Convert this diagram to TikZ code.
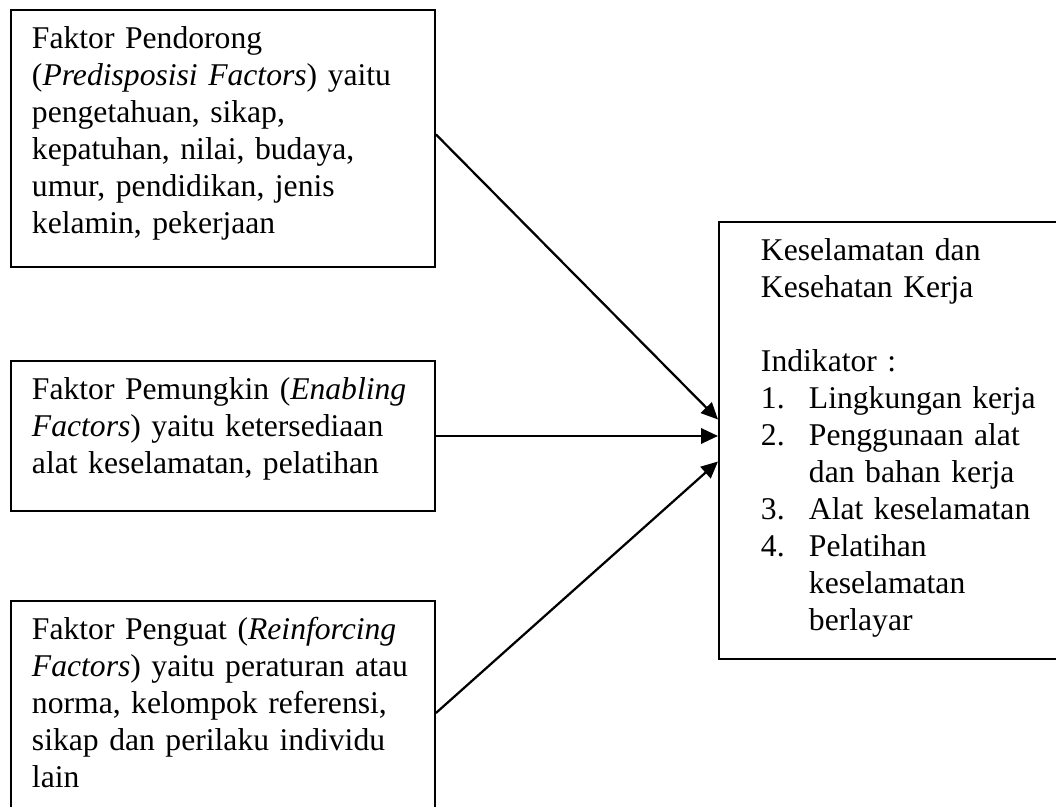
\documentclass[tikz,border=0pt]{standalone}
\usepackage{fontspec}
\setmainfont{Liberation Serif}
\usetikzlibrary{arrows.meta}

\begin{document}
\begin{tikzpicture}[
  kotak/.style={draw, line width=1.4pt, anchor=north west, align=left,
                inner xsep=0.525cm, inner ysep=0pt, text width=9.55cm,
                text height=0.975cm, font=\fontsize{22.5}{26.3}\selectfont},
  panah/.style={-{Triangle[length=0.42cm, width=0.38cm]}, line width=1.6pt}
]
  \useasboundingbox (0,0) rectangle (26.4,-20.175);
  \node[kotak, text depth=5.45cm] (pendorong) at (0.25,-0.225)
    {Faktor Pendorong\\(\textit{Predisposisi Factors}) yaitu\\pengetahuan, sikap,\\kepatuhan, nilai, budaya,\\umur, pendidikan, jenis\\kelamin, pekerjaan};
  \node[kotak, text depth=2.775cm] (pemungkin) at (0.25,-9.0)
    {Faktor Pemungkin (\textit{Enabling}\\\textit{Factors}) yaitu ketersediaan\\alat keselamatan, pelatihan};
  \node[kotak, text depth=4.625cm] (penguat) at (0.25,-15.0)
    {Faktor Penguat (\textit{Reinforcing}\\\textit{Factors}) yaitu peraturan atau\\norma, kelompok referensi,\\sikap dan perilaku individu\\lain};
  \node[kotak, text width=7cm, inner xsep=1.05cm, text depth=9.95cm] (k3) at (17.95,-5.525)
    {Keselamatan dan\\Kesehatan Kerja\\[\baselineskip]Indikator :\\
     \makebox[1.2cm][l]{1.}Lingkungan kerja\\
     \makebox[1.2cm][l]{2.}Penggunaan alat\\\hspace*{1.2cm}dan bahan kerja\\
     \makebox[1.2cm][l]{3.}Alat keselamatan\\
     \makebox[1.2cm][l]{4.}Pelatihan\\\hspace*{1.2cm}keselamatan\\\hspace*{1.2cm}berlayar};
  \draw[panah] ([yshift=0.1cm]pendorong.east) -- ([yshift=0.525cm]k3.west);
  \draw[panah] (pemungkin.east) -- (pemungkin.east -| k3.west);
  \draw[panah] (penguat.east) -- ([yshift=-0.525cm]k3.west);
\end{tikzpicture}
\end{document}
